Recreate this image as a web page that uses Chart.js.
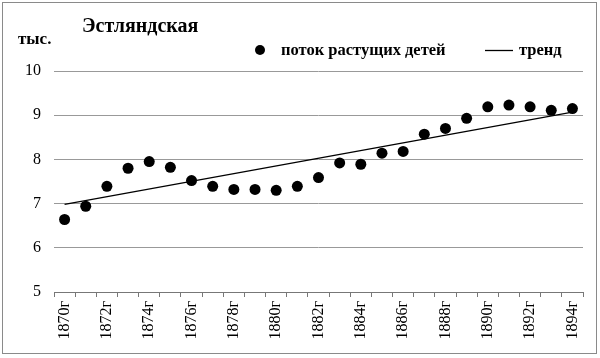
<!DOCTYPE html>
<html><head><meta charset="utf-8">
<script src="https://cdn.jsdelivr.net/npm/chart.js@4"></script>
<style>html,body{margin:0;padding:0;background:#fff}#wrap{width:600px;height:358px}</style>
</head><body><div id="wrap"><canvas id="c" width="600" height="358"></canvas></div>
<script>
const years = ['1870г','1871г','1872г','1873г','1874г','1875г','1876г','1877г','1878г','1879г','1880г','1881г','1882г','1883г','1884г','1885г','1886г','1887г','1888г','1889г','1890г','1891г','1892г','1893г','1894г'];
const flowValues = [6.64,6.94,7.39,7.80,7.95,7.82,7.52,7.39,7.32,7.32,7.30,7.39,7.59,7.92,7.89,8.14,8.18,8.57,8.70,8.93,9.19,9.23,9.19,9.11,9.15];
const trendValues = [6.98,null,null,null,null,null,null,null,null,null,null,null,null,null,null,null,null,null,null,null,null,null,null,null,9.07];
const yTicks = [5,6,7,8,9,10];
const titleText = 'Эстляндская';
const unitText = 'тыс.';
const seriesNames = ['поток растущих детей','тренд'];

const SERIF = '"Liberation Serif", "Times New Roman", serif';

const decor = {
  id: 'decor',
  afterDraw(chart) {
    const ctx = chart.ctx;
    ctx.save();
    ctx.strokeStyle = '#8a8a8a';
    ctx.lineWidth = 1;
    ctx.strokeRect(2.5, 2.5, 594, 351);
    ctx.fillStyle = '#000';
    ctx.textBaseline = 'middle';
    ctx.textAlign = 'left';
    ctx.font = 'bold 20px ' + SERIF;
    ctx.fillText(titleText, 82, 27);
    ctx.font = 'bold 17px ' + SERIF;
    ctx.fillText(unitText, 18, 40);
    // legend
    ctx.beginPath();
    ctx.arc(260, 50, 5, 0, Math.PI * 2);
    ctx.fill();
    ctx.font = 'bold 16.5px ' + SERIF;
    ctx.fillText(seriesNames[0], 281, 51);
    ctx.beginPath();
    ctx.moveTo(485, 50.5); ctx.lineTo(513, 50.5);
    ctx.lineWidth = 1.3; ctx.strokeStyle = '#000'; ctx.stroke();
    ctx.fillText(seriesNames[1], 519, 51);
    ctx.restore();
  }
};

new Chart(document.getElementById('c'), {
  type: 'line',
  data: {
    labels: years,
    datasets: [
      { label: seriesNames[0], data: flowValues, showLine: false, pointRadius: 5.5, pointBackgroundColor: '#000', pointBorderColor: '#000', pointBorderWidth: 0 },
      { label: seriesNames[1], data: trendValues, spanGaps: true, borderColor: '#000', borderWidth: 1.3, pointRadius: 0, tension: 0 }
    ]
  },
  options: {
    responsive: false,
    animation: false,
    devicePixelRatio: 1,
    layout: { padding: { top: 71, right: 17, left: 0, bottom: 0 } },
    plugins: { legend: { display: false }, title: { display: false }, tooltip: { enabled: false } },
    scales: {
      x: {
        offset: true,
        grid: { offset: true, drawOnChartArea: false, drawTicks: true, tickLength: 5, color: '#777', lineWidth: 1 },
        border: { display: true, color: '#777', width: 1 },
        ticks: {
          autoSkip: false, minRotation: 90, maxRotation: 90, padding: 4,
          color: '#000', font: { family: SERIF, size: 16 },
          callback: function(v, i) { return i % 2 === 0 ? this.getLabelForValue(v) : ''; }
        },
        afterFit(s) { s.height = 66; }
      },
      y: {
        min: 5, max: 10,
        afterBuildTicks(s) { s.ticks = yTicks.map(v => ({ value: v })); },
        grid: { drawTicks: false, color: '#999', lineWidth: 1 },
        border: { display: false },
        ticks: { padding: 13, color: '#000', font: { family: SERIF, size: 16 } },
        afterFit(s) { s.width = 54; }
      }
    }
  },
  plugins: [decor]
});
</script>
</body></html>
